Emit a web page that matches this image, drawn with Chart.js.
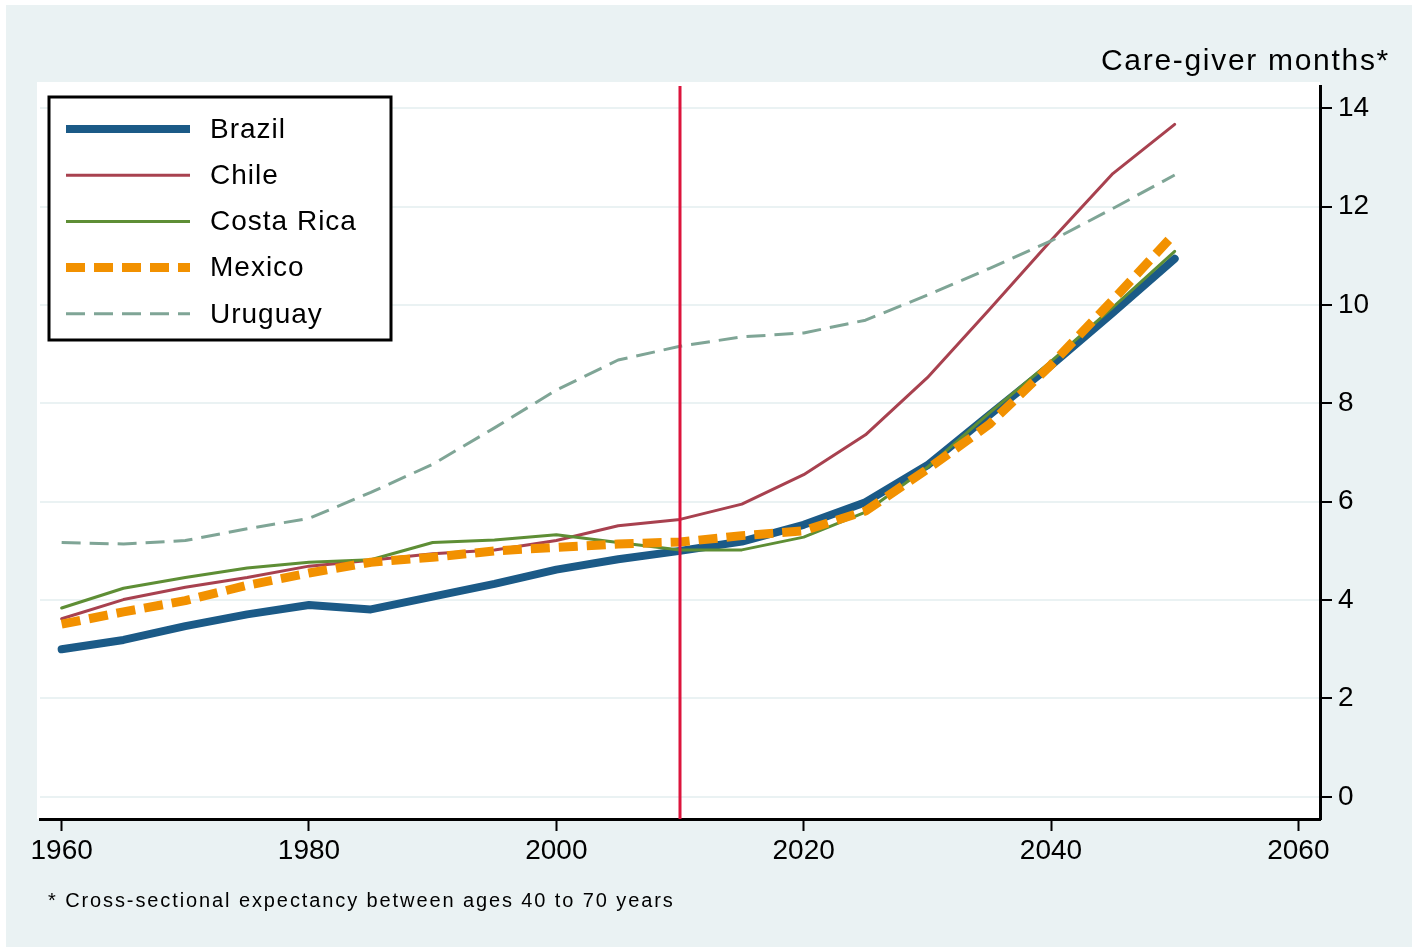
<!DOCTYPE html>
<html>
<head>
<meta charset="utf-8">
<script src="https://cdn.jsdelivr.net/npm/chart.js@4.4.0/dist/chart.umd.min.js"></script>
<style>
    body { margin: 0; background: #fff; }
    #wrap { position: relative; width: 1416px; height: 950px; }
    canvas { position: absolute; left: 0; top: 0; }
    .txt { position: absolute; font-family: "Liberation Sans", Arial, sans-serif; color: #000; white-space: nowrap; }
    #title { right: 26px; top: 45px; font-size: 30px; line-height: 30px; letter-spacing: 1.7px; }
    #note { left: 48px; top: 890px; font-size: 20px; line-height: 20px; letter-spacing: 1.9px; }
</style>
</head>
<body>
<div id="wrap">
    <canvas id="chart" width="1416" height="950"></canvas>
    <div class="txt" id="title">Care-giver months*</div>
    <div class="txt" id="note">* Cross-sectional expectancy between ages 40 to 70 years</div>
</div>
<script>
// ─── Data ────────────────────────────────────────────────────────────────────
const years = [1960, 1965, 1970, 1975, 1980, 1985, 1990, 1995, 2000, 2005,
               2010, 2015, 2020, 2025, 2030, 2035, 2040, 2045, 2050];
const brazil    = [3.00, 3.19, 3.47, 3.71, 3.90, 3.81, 4.07, 4.33, 4.62, 4.83, 5.00, 5.19, 5.53, 5.99, 6.74, 7.76, 8.77, 9.84, 10.94];
const chile     = [3.62, 4.01, 4.26, 4.46, 4.69, 4.81, 4.94, 5.02, 5.21, 5.51, 5.64, 5.95, 6.55, 7.36, 8.52, 9.90, 11.31, 12.67, 13.67];
const costaRica = [3.84, 4.24, 4.46, 4.65, 4.77, 4.82, 5.17, 5.22, 5.33, 5.17, 5.02, 5.02, 5.28, 5.79, 6.70, 7.80, 8.85, 9.95, 11.09];
const mexico    = [3.51, 3.76, 3.99, 4.30, 4.55, 4.77, 4.87, 5.00, 5.07, 5.14, 5.18, 5.31, 5.41, 5.81, 6.66, 7.57, 8.78, 10.10, 11.45];
const uruguay   = [5.17, 5.14, 5.21, 5.45, 5.66, 6.19, 6.76, 7.50, 8.27, 8.88, 9.16, 9.35, 9.43, 9.69, 10.20, 10.74, 11.30, 11.96, 12.64];
const xTicks = [1960, 1980, 2000, 2020, 2040, 2060];
const yTicks = [0, 2, 4, 6, 8, 10, 12, 14];
const refYear = 2010;

const FONT = '"Liberation Sans", Arial, sans-serif';
const BG = '#eaf2f3';

function series(label, values, color, width, dash, order) {
    return {
        label: label,
        data: years.map((y, i) => ({ x: y, y: values[i] })),
        borderColor: color,
        backgroundColor: color,
        borderWidth: width,
        borderDash: dash,
        borderCapStyle: dash.length ? 'butt' : 'round',
        borderJoinStyle: 'round',
        pointRadius: 0,
        tension: 0,
        order: order
    };
}

// ─── Plugins ─────────────────────────────────────────────────────────────────
const backdrop = {
    id: 'backdrop',
    beforeDraw(chart) {
        const ctx = chart.ctx, a = chart.chartArea;
        ctx.save();
        ctx.fillStyle = '#fff';
        ctx.fillRect(0, 0, chart.width, chart.height);
        ctx.fillStyle = BG;
        ctx.fillRect(6, 5, 1406, 942);
        ctx.fillStyle = '#fff';
        ctx.fillRect(a.left - 3, a.top - 4, a.right - a.left + 3, a.bottom - a.top + 4);
        ctx.restore();
    }
};

const refLine = {
    id: 'refLine',
    afterDatasetsDraw(chart) {
        const ctx = chart.ctx, a = chart.chartArea;
        const x = chart.scales.x.getPixelForValue(refYear);
        ctx.save();
        ctx.strokeStyle = '#dc143c';
        ctx.lineWidth = 3;
        ctx.beginPath();
        ctx.moveTo(x, a.top);
        ctx.lineTo(x, a.bottom);
        ctx.stroke();
        ctx.restore();
    }
};

const boxLegend = {
    id: 'boxLegend',
    afterDraw(chart) {
        const ctx = chart.ctx;
        const bx = 49, by = 97, bw = 342, bh = 243;
        ctx.save();
        ctx.fillStyle = '#fff';
        ctx.fillRect(bx, by, bw, bh);
        ctx.strokeStyle = '#000';
        ctx.lineWidth = 3;
        ctx.strokeRect(bx, by, bw, bh);
        chart.data.datasets.forEach((ds, i) => {
            const cy = 129 + i * 46.2;
            ctx.strokeStyle = ds.borderColor;
            ctx.lineWidth = ds.borderWidth;
            ctx.setLineDash(ds.borderDash);
            ctx.lineCap = 'butt';
            ctx.beginPath();
            ctx.moveTo(66, cy);
            ctx.lineTo(190, cy);
            ctx.stroke();
            ctx.setLineDash([]);
            ctx.fillStyle = '#000';
            ctx.font = '28px ' + FONT;
            ctx.letterSpacing = '1px';
            ctx.textBaseline = 'middle';
            ctx.fillText(ds.label, 210, cy + 1);
        });
        ctx.restore();
    }
};

// ─── Chart ───────────────────────────────────────────────────────────────────
new Chart(document.getElementById('chart'), {
    type: 'line',
    data: {
        datasets: [
            series('Brazil', brazil, '#1b5a87', 8, [], 5),
            series('Chile', chile, '#a8414f', 3, [], 4),
            series('Costa Rica', costaRica, '#5e8e35', 3, [], 3),
            series('Mexico', mexico, '#f29100', 9, [19, 9], 2),
            series('Uruguay', uruguay, '#7fa596', 3, [19, 9], 1)
        ]
    },
    options: {
        responsive: false,
        animation: false,
        devicePixelRatio: 1,
        layout: { padding: { left: 40, top: 86, right: 0, bottom: 0 } },
        plugins: { legend: { display: false }, tooltip: { enabled: false } },
        scales: {
            x: {
                type: 'linear',
                min: 1958.25,
                max: 2061.75,
                afterBuildTicks: s => { s.ticks = xTicks.map(v => ({ value: v })); },
                afterFit: s => { s.height = 131; },
                ticks: { font: { family: FONT, size: 28 }, color: '#000', padding: 3, maxRotation: 0, autoSkip: false,
                         callback: v => String(v) },
                grid: { drawOnChartArea: false, tickLength: 12, tickColor: '#000', tickWidth: 2 },
                border: { display: true, color: '#000', width: 3 }
            },
            y: {
                position: 'right',
                min: -0.45,
                max: 14.45,
                afterBuildTicks: s => { s.ticks = yTicks.map(v => ({ value: v })); },
                afterFit: s => { s.width = 96; },
                ticks: { font: { family: FONT, size: 28 }, color: '#000', padding: 6, callback: v => String(v) },
                grid: { color: BG, lineWidth: 2, tickLength: 12, tickColor: '#000', tickWidth: 2 },
                border: { display: true, color: '#000', width: 3 }
            }
        }
    },
    plugins: [backdrop, refLine, boxLegend]
});
</script>
</body>
</html>
